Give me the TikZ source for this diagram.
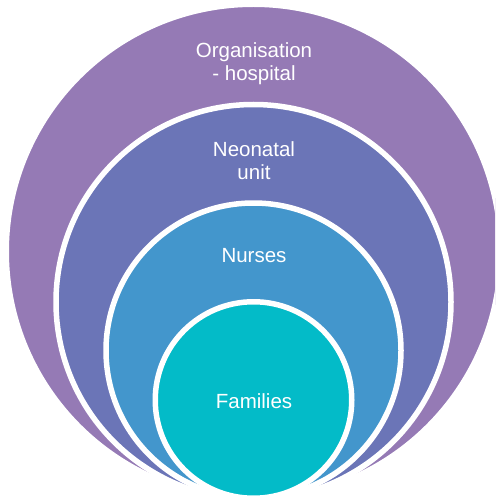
\documentclass[tikz,border=0pt]{standalone}
\usepackage{fontspec}
\setmainfont{Liberation Sans}
\definecolor{orgpurple}{RGB}{149,122,181}
\definecolor{unitblue}{RGB}{107,117,183}
\definecolor{nurseblue}{RGB}{67,150,204}
\definecolor{familyteal}{RGB}{3,187,200}
\tikzset{
  ring/.style={circle, draw=white, line width=5.5pt, inner sep=0pt, outer sep=0pt, minimum size=#1},
  label/.style={text=white, align=center, font=\fontsize{20.5}{23}\selectfont, inner sep=0pt, anchor=base}
}
\begin{document}
\begin{tikzpicture}[x=1pt, y=-1pt]
  \useasboundingbox (0,0) rectangle (495,497);
  \begin{scope}
    \clip (0,0) rectangle (495,497);
    % nested circles, all touching near the bottom
    \node[ring=494.5pt, fill=orgpurple] (org) at (253.5,251.5) {};
    \node[ring=395pt, fill=unitblue] (unit) at (253.5,302) {};
    \node[ring=295pt, fill=nurseblue] (nurses) at (253.5,350.5) {};
    \node[ring=196.5pt, fill=familyteal] (families) at (253.5,400) {};
  \end{scope}
  % level labels (base anchor sits on the last line)
  \node[label] (orgtext) at (254,81) {Organisation\\- hospital};
  \node[label] (unittext) at (254,179) {Neonatal\\unit};
  \node[label] (nursetext) at (254,262) {Nurses};
  \node[label] (familytext) at (254,408) {Families};
\end{tikzpicture}
\end{document}
